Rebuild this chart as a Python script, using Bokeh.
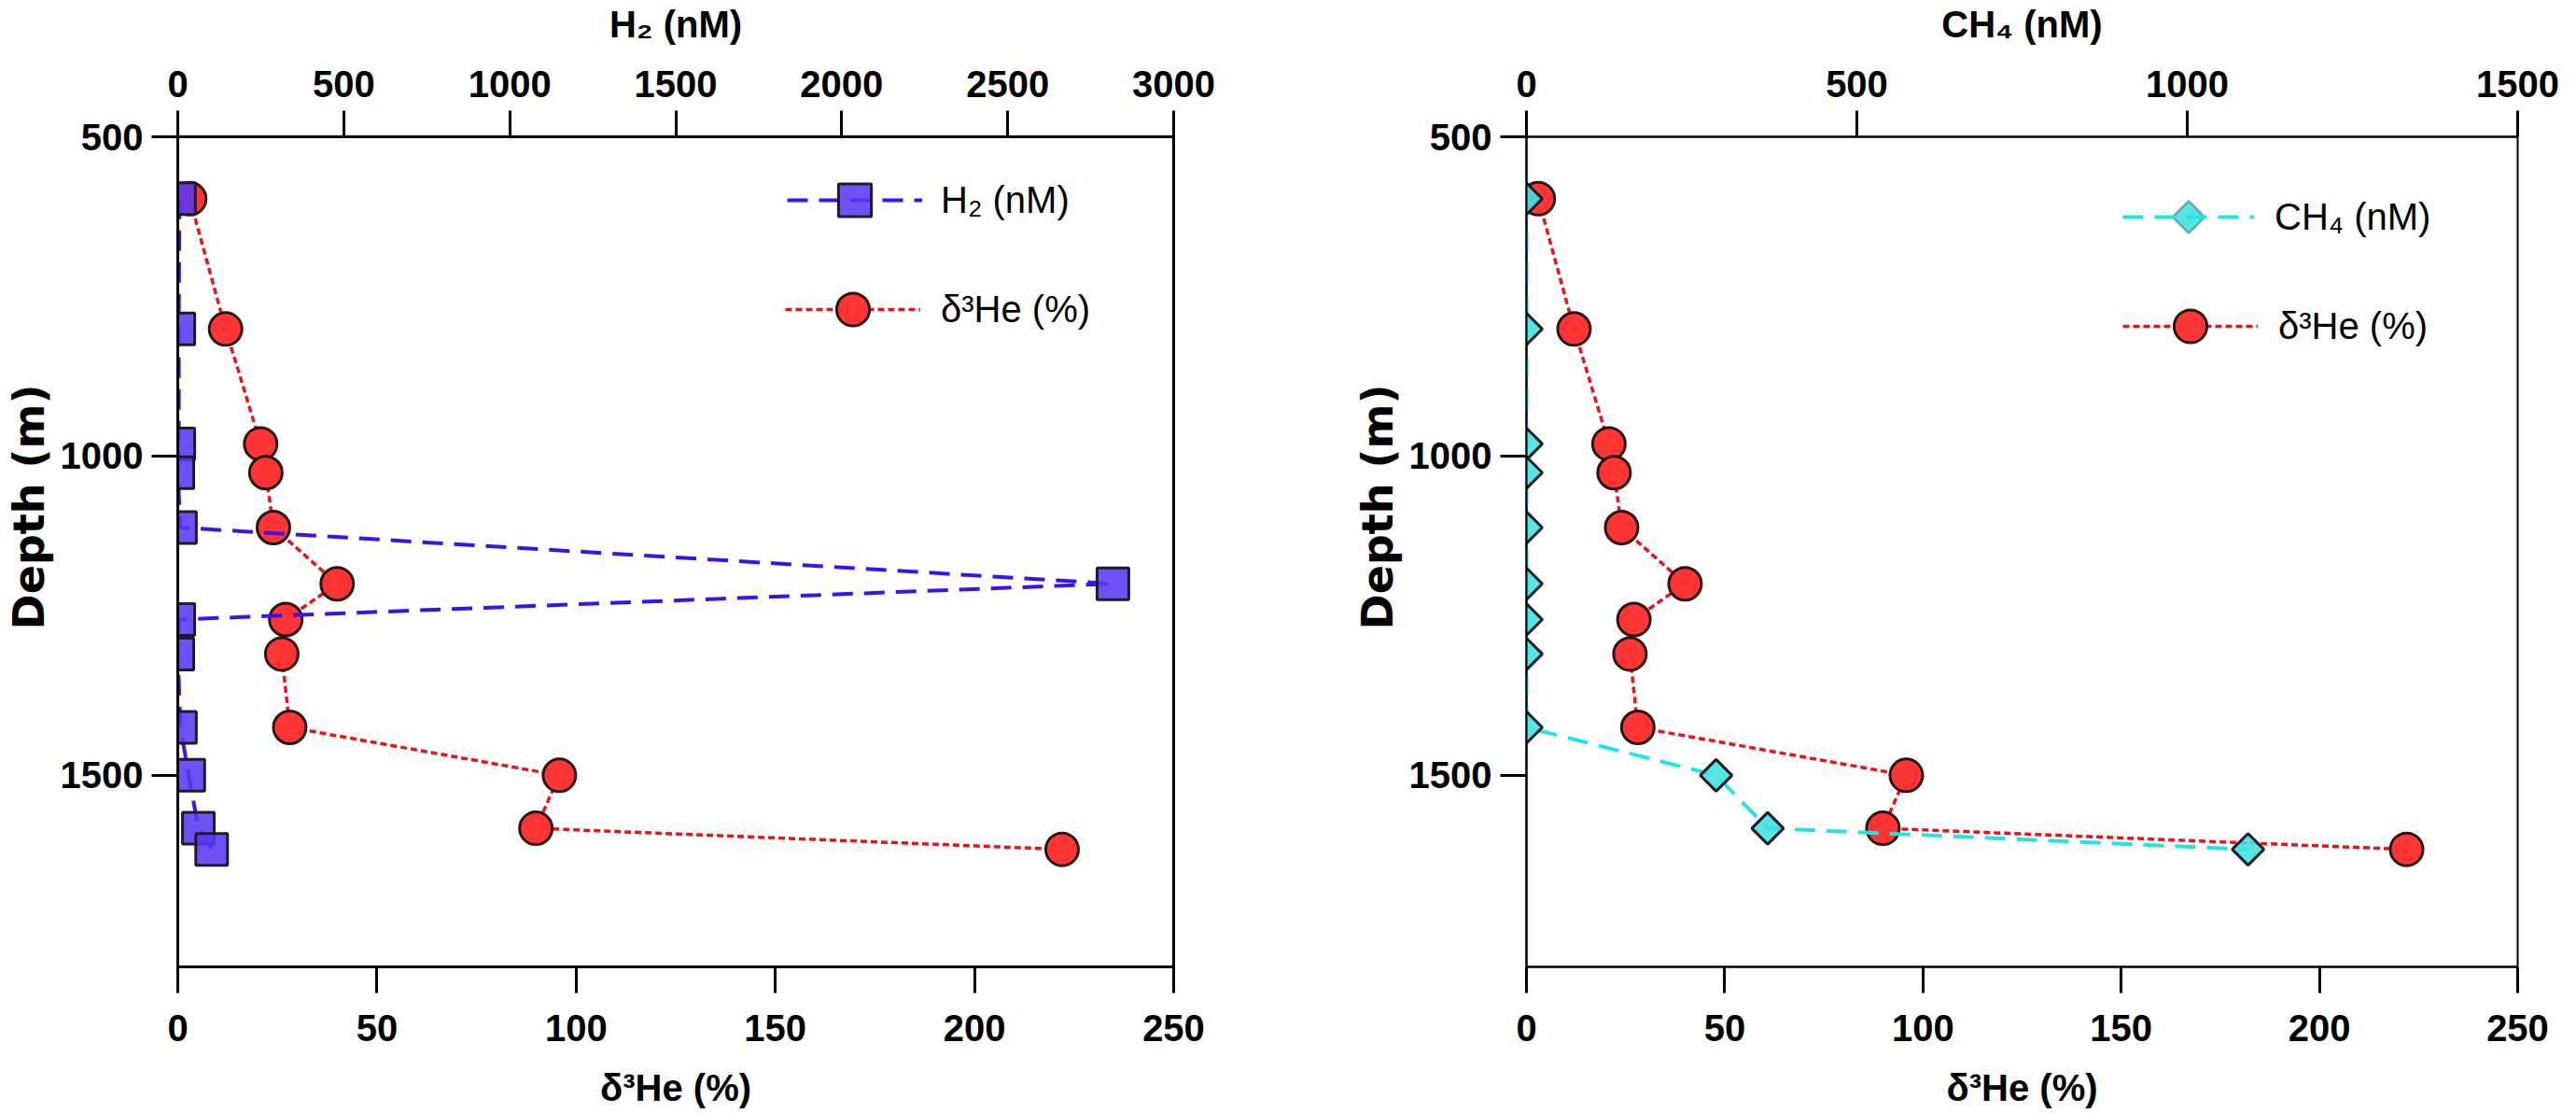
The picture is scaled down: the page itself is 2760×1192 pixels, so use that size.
import math
from bokeh.plotting import figure
from bokeh.models import (Range1d, LinearAxis, FixedTicker, Legend, LegendItem,
                          PolyAnnotation)
from bokeh.layouts import row
from bokeh.embed import file_html
from bokeh.resources import INLINE

# ---- data ----
depth_m = [597, 801, 981, 1026, 1112, 1200, 1256, 1310, 1425, 1500, 1583, 1616]
he3_pct = [3.0, 12.0, 20.8, 22.1, 24.0, 40.0, 27.1, 26.1, 28.1, 95.8, 89.9, 222.0]
h2_nM = [5, 3, 3, 0, 8, 2817, 3, 0, 8, 33, 62, 102]
ch4_nM = [0, 0, 0, 0, 0, 0, 0, 0, 0, 287, 365, 1092]

he3_ticks = [0, 50, 100, 150, 200, 250]
h2_ticks = [0, 500, 1000, 1500, 2000, 2500, 3000]
ch4_ticks = [0, 500, 1000, 1500]
depth_ticks = [500, 1000, 1500]

FONT = "Liberation Sans"
NB = "\u00a0"


def style_axis(ax, lw):
    ax.axis_line_width = lw
    ax.axis_line_color = "black"
    ax.major_tick_line_width = 3
    ax.major_tick_line_color = "black"
    ax.major_tick_out = 28
    ax.major_tick_in = 0
    ax.minor_tick_line_color = None
    ax.major_label_text_font = FONT
    ax.major_label_text_font_style = "bold"
    ax.major_label_text_font_size = "40px"
    ax.major_label_text_color = "black"
    ax.axis_label_text_font = FONT
    ax.axis_label_text_font_style = "bold"
    ax.axis_label_text_font_size = "40px"
    ax.axis_label_text_color = "black"


def make_panel(gas, gas_label, gas_ticks, gas_max, border_left, border_right,
               lw, gas_color, gas_fill, marker, msize, mangle, diamond_legend,
               leg_gas, leg_he):
    p = figure(width=1380, height=1192,
               x_range=Range1d(0, 250), y_range=Range1d(1800, 500),
               output_backend="svg", toolbar_location=None,
               min_border_left=border_left, min_border_right=border_right,
               min_border_top=146, min_border_bottom=157)
    p.background_fill_color = "white"
    p.border_fill_color = "white"
    p.grid.visible = False
    p.outline_line_color = "black"
    p.outline_line_width = lw

    p.extra_x_ranges = {"gas": Range1d(0, gas_max)}

    xa = p.xaxis[0]
    xa.ticker = FixedTicker(ticks=he3_ticks)
    xa.axis_label = "δ³He (%)"
    style_axis(xa, lw)
    xa.major_label_standoff = 23
    xa.axis_label_standoff = 25

    ya = p.yaxis[0]
    ya.ticker = FixedTicker(ticks=depth_ticks)
    ya.axis_label = NB * 6 + "Depth (m)"
    style_axis(ya, lw)
    ya.axis_label_text_font = "DejaVu Sans"
    ya.axis_label_text_font_size = "46px"
    ya.major_label_standoff = 9
    ya.axis_label_standoff = 4

    top = LinearAxis(x_range_name="gas", axis_label=gas_label,
                     ticker=FixedTicker(ticks=gas_ticks))
    style_axis(top, lw)
    top.major_label_standoff = 15
    top.axis_label_standoff = 25
    p.add_layout(top, "above")

    he_line = p.line(he3_pct, depth_m, line_color="#e8141c", line_width=3.5,
                     line_dash="7 4")
    he_pts = p.scatter(he3_pct, depth_m, marker="circle", size=35,
                       fill_color="#ff3434", line_color="#2a1414", line_width=3)
    g_line = p.line(gas, depth_m, x_range_name="gas", line_color=gas_color,
                    line_width=4, line_dash="22 12")
    g_pts = p.scatter(gas, depth_m, x_range_name="gas", marker=marker, size=msize,
                      angle=mangle, fill_color=gas_fill, fill_alpha=0.88,
                      line_color="#1c1c2a", line_width=3)
    gas_rends = [g_line] if diamond_legend else [g_line, g_pts]

    for (label, rends, loc, gw, gh, stand) in [
        (gas_label, gas_rends) + leg_gas,
        ("δ³He (%)", [he_line, he_pts]) + leg_he,
    ]:
        lg = Legend(items=[LegendItem(label=label, renderers=rends)],
                    location=loc, glyph_width=gw, glyph_height=gh,
                    label_standoff=stand, padding=0, margin=0, spacing=0,
                    border_line_alpha=0, background_fill_alpha=0,
                    label_text_font=FONT, label_text_font_size="40px",
                    label_text_color="black", label_height=gh)
        p.add_layout(lg)

    if diamond_legend:
        # legend key symbol (diamond) drawn on the legend sample line
        (lx, ly), gw, gh, _ = leg_gas
        cx = lx + gw / 2
        cy = ly + gh / 2
        r = 17.5
        p.add_layout(PolyAnnotation(
            xs=[cx, cx + r, cx, cx - r], ys=[cy + r, cy, cy - r, cy],
            xs_units="screen", ys_units="screen",
            fill_color=gas_fill, fill_alpha=0.88,
            line_color="#1c1c2a", line_width=3))
    return p


p1 = make_panel(h2_nM, "H₂ (nM)", h2_ticks, 3000, 190, 123, 3,
                "#3a12f0", "#5a38f4", "square", 34, 0, False,
                ((653, 777), 145, 88, 20), ((651, 660), 145, 88, 22))
p2 = make_panel(ch4_nM, "CH₄ (nM)", ch4_ticks, 1500, 255, 63, 2,
                "#22e4e4", "#3ee2e0", "square", 24, math.pi / 4, True,
                ((639, 773), 141, 60, 22), ((639, 642), 145, 88, 22))

layout = row(p1, p2)
open("out.html", "w").write(file_html(layout, INLINE))
